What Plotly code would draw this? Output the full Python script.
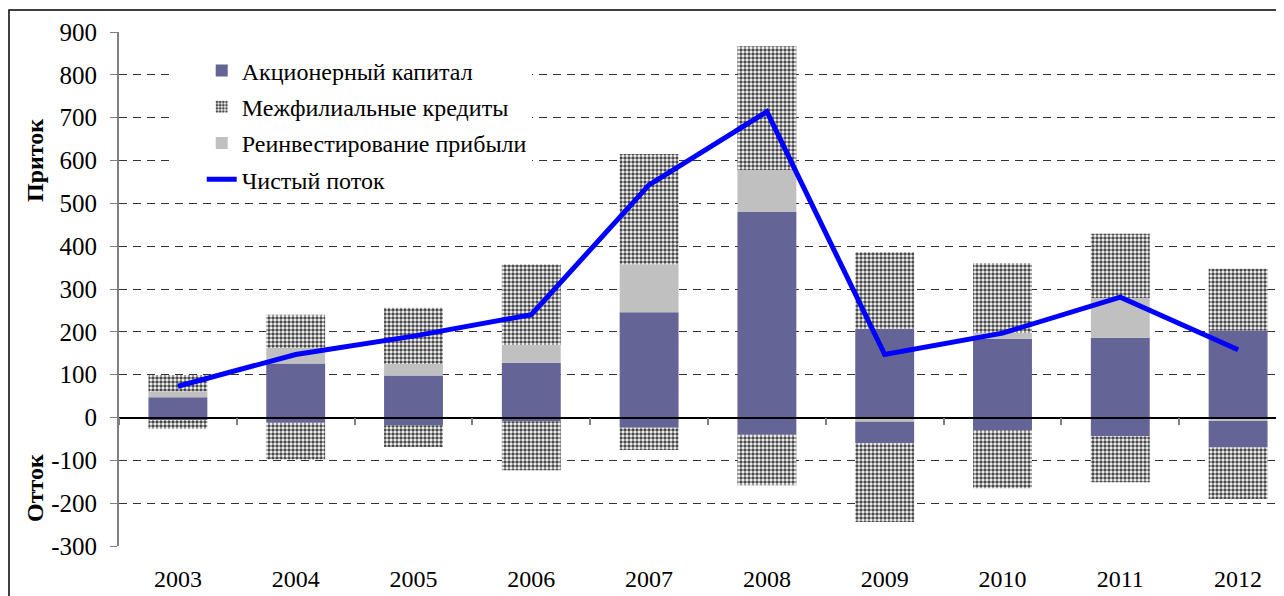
import plotly.graph_objects as go

# values
years = ['2003', '2004', '2005', '2006', '2007', '2008', '2009', '2010', '2011', '2012']
equity_in = [47, 126, 98, 128, 246, 480, 207, 184, 186, 203]
equity_out = [-6, -12, -18, -9, -24, -40, -50, -30, -44, -62]
loans_in = [38, 78, 131, 188, 257, 289, 179, 163, 150, 144]
loans_out = [-20, -86, -51, -114, -52, -118, -184, -135, -107, -120]
reinv_in = [14, 36, 27, 41, 112, 98, 0, 13, 93, 0]
reinv_out = [0, 0, 0, 0, 0, 0, -10, 0, 0, -8]
net_flow = [73, 147, 190, 240, 543, 714, 147, 197, 281, 158]
y_ticks = [-300, -200, -100, 0, 100, 200, 300, 400, 500, 600, 700, 800, 900]
y_tick_text = ['-300', '-200', '-100', '0', '100', '200', '300', '400', '500', '600', '700', '800', '900']

FONT = 'Liberation Serif, Times New Roman, serif'
PURPLE = '#646496'
GREY = '#c0c0c0'
hatch = dict(shape='.', fgcolor='#4a4a4a', bgcolor='white', size=4, solidity=0.6, fillmode='replace')

# the page body has an 8px margin, so the figure is a bit smaller than the window
W, H = 1276, 588
ML, MR, MT, MB = 111, 0, 24, 50
pw, ph = W - ML - MR, H - MT - MB
step = 117.8  # px per category in the reference
x = list(range(len(years)))
xr = [-0.5, -0.5 + pw / step]
yr = [-300, 900]


def px(sx):
    return (sx - 8 - ML) / pw


def py(sy):
    return 1 - (sy - 8 - MT) / ph


fig = go.Figure()
fig.add_trace(go.Bar(x=x, y=reinv_out, marker=dict(color=GREY, line_width=0),
                     width=0.5, showlegend=False, legendgroup='c'))
fig.add_trace(go.Bar(x=x, y=equity_in, name='Акционерный капитал', marker=dict(color=PURPLE, line_width=0),
                     width=0.5, legendgroup='a', legendrank=1))
fig.add_trace(go.Bar(x=x, y=equity_out, marker=dict(color=PURPLE, line_width=0),
                     width=0.5, showlegend=False, legendgroup='a'))
fig.add_trace(go.Bar(x=x, y=reinv_in, name='Реинвестирование прибыли', marker=dict(color=GREY, line_width=0),
                     width=0.5, legendgroup='c', legendrank=3))
fig.add_trace(go.Bar(x=x, y=loans_in, name='Межфилиальные кредиты',
                     marker=dict(color='white', line_width=0, pattern=hatch),
                     width=0.5, legendgroup='b', legendrank=2))
fig.add_trace(go.Bar(x=x, y=loans_out, marker=dict(color='white', line_width=0, pattern=hatch),
                     width=0.5, showlegend=False, legendgroup='b'))
fig.add_trace(go.Scatter(x=x, y=net_flow, name='Чистый поток', mode='lines',
                         line=dict(color='#0000ff', width=5), legendgroup='d', legendrank=4))
# carrier for the axis drawn at zero
fig.add_trace(go.Scatter(x=[None], y=[None], xaxis='x2', showlegend=False, hoverinfo='skip'))

fig.update_layout(
    width=W, height=H,
    margin=dict(l=ML, r=MR, t=MT, b=MB),
    barmode='relative',
    plot_bgcolor='white', paper_bgcolor='white',
    font=dict(family=FONT, size=24, color='black'),
    xaxis=dict(range=xr, tickvals=x, ticktext=years, showgrid=False, zeroline=False,
               showline=False, ticks='', ticklabelstandoff=16),
    xaxis2=dict(range=xr, overlaying='x', anchor='free', position=(0 - yr[0]) / (yr[1] - yr[0]),
                side='bottom', tickvals=[i - 0.5 for i in range(len(years) + 1)], ticks='outside',
                ticklen=7, tickcolor='#808080', tickwidth=1.5, showticklabels=False, showgrid=False,
                zeroline=False, showline=True, linecolor='black', linewidth=1.5, layer='above traces'),
    yaxis=dict(range=yr, tickvals=y_ticks, ticktext=y_tick_text, showgrid=True,
               gridcolor='#333333', gridwidth=1, griddash='8px,6px', zeroline=False, showline=True,
               linecolor='#808080', linewidth=2, ticks='outside', ticklen=7, tickcolor='#808080',
               ticklabelstandoff=8, tickfont=dict(size=25)),
    legend=dict(x=0.071, y=0.968, xanchor='left', yanchor='top', bgcolor='rgba(0,0,0,0)',
                font=dict(family=FONT, size=24), traceorder='grouped', tracegroupgap=2),
    showlegend=True,
)

# white patch under the legend that hides the gridlines (between grid and bars)
fig.add_shape(type='rect', xref='x', yref='y',
              x0=xr[0] + px(174) * (xr[1] - xr[0]), x1=xr[0] + px(532) * (xr[1] - xr[0]),
              y0=yr[0] + py(197) * (yr[1] - yr[0]), y1=yr[0] + py(50) * (yr[1] - yr[0]),
              fillcolor='white', line_width=0, layer='between')

fig.add_annotation(text='<b>Приток</b>', xref='paper', yref='paper', x=px(35), y=py(161),
                   xanchor='center', yanchor='middle', textangle=-90, showarrow=False, font=dict(size=24))
fig.add_annotation(text='<b>Отток</b>', xref='paper', yref='paper', x=px(35), y=py(488),
                   xanchor='center', yanchor='middle', textangle=-90, showarrow=False, font=dict(size=24))

# outer frame of the chart
fig.add_shape(type='rect', xref='paper', yref='paper', x0=px(9), x1=1.2, y0=-0.5, y1=py(10),
              line=dict(color='black', width=1.5))

fig.write_html('out.html')
